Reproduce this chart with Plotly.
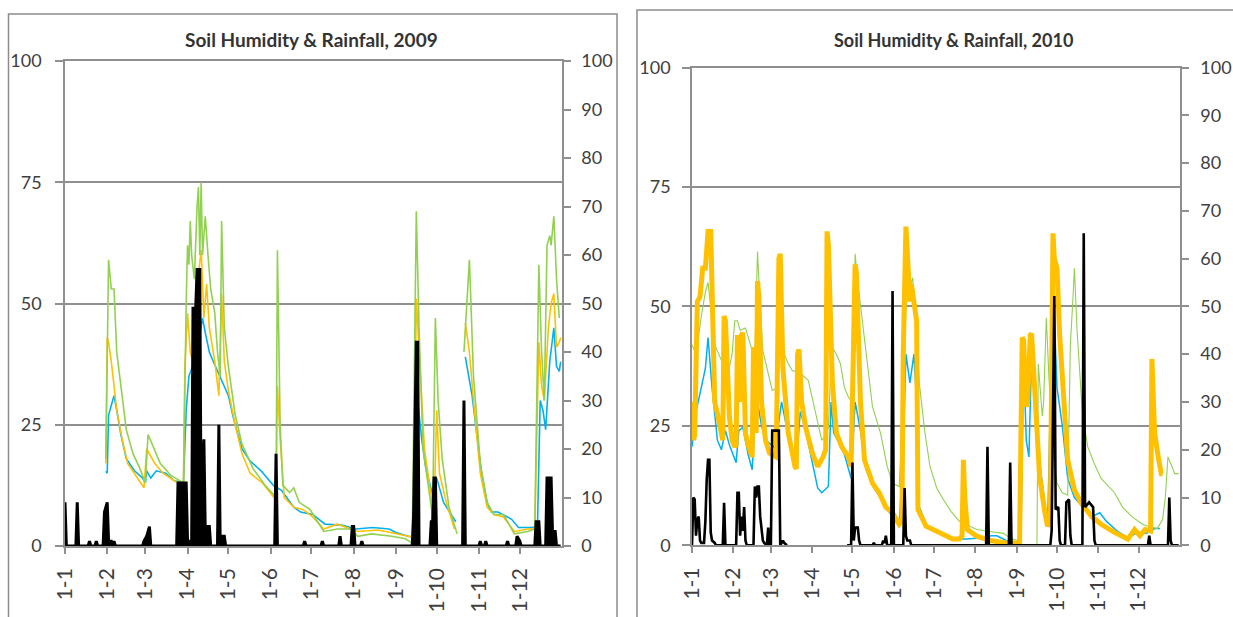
import plotly.graph_objects as go

# ---------------- data (day of year, value) ----------------
month_days = [0, 31, 59, 90, 120, 151, 181, 212, 243, 273, 304, 334]
month_labels = ["1-1", "1-2", "1-3", "1-4", "1-5", "1-6", "1-7", "1-8", "1-9", "1-10", "1-11", "1-12"]
titles = ["Soil Humidity & Rainfall, 2009", "Soil Humidity & Rainfall, 2010"]

blue09 = [(30,15.4),(31,15),(32,27),(36,31),(38,28),(41,23),(45,18),(51,15.5),(57,14),(59,13),(60,15.5),(63,14),
          (67,15.5),(74,15),(80,13.5),(87,13),(89,28),(91,35),(93,36.5),(95,38),(98,42),(101,47),(103,44),(106,40),
          (109,38),(112,36),(115,34),(120,31),(124,26),(130,20),(136,17.5),(144,15.5),(153,12.5),(159,11.5),(168,8),
          (173,7),(182,6.5),(191,4.5),(203,4.3),(214,3.5),(226,3.8),(238,3.5),(243,2.8),(252,2),(257,1.8),(259,30),
          (262,22),(265,16),(270,10.5),(273,14),(278,9),(287,5),(290,None),(294,39),(296,36),(299,31),(302,24),
          (306,15),(310,9),(313,7),(318,7),(328,5.5),(333,3.8),(343,3.8),(347,4),(349,30),(351,28),(353,24),
          (356,38),(359,45),(361,37),(363,36),(364,38)]
orange09 = [(30,17),(31,43),(32,42),(34,38),(38,28),(42,22),(46,17),(52,14.5),(58,12),(60,20),(62,19),(66,17),
            (72,15),(80,13.5),(87,12.5),(88,37),(90,48),(92,40),(94,38),(96,50),(98,56),(100,61),(102,47),(104,54),
            (106,45),(110,38),(113,31),(115,52),(117,38),(120,32),(125,25),(130,19),(136,15),(145,13),(155,9.5),
            (156,33),(158,22),(161,10),(168,8),(175,7.5),(182,6),(190,3.5),(200,4.5),(215,3),(230,3.3),(245,2.5),
            (256,1.8),(258,51),(261,35),(264,20),(268,12),(271,7),(273,28),(275,15),(280,9),(286,3.5),(290,None),
            (294,46),(297,40),(300,30),(305,15),(310,8),(315,6.5),(322,6),(330,3),(340,3.5),(345,3.5),(348,42),
            (350,33),(352,30),(355,45),(357,50),(359,52),(361,41),(363,42),(364,43)]
green09 = [(30,18),(32,59),(34,53),(36,53),(38,40),(41,33),(45,24),(50,19),(55,16),(59,13),(61,23),(64,21),(70,17),
           (78,14.5),(87,13),(89,50),(90,62),(91,58),(92,67),(93,60),(95,55),(97,70),(98,74),(99,60),(100,75),
           (101,60),(103,68),(105,60),(107,53),(110,48),(112,40),(114,35),(115,67),(117,45),(120,37),(125,27),
           (130,21),(138,16),(147,12.5),(155,10),(156,61),(158,25),(160,12.5),(165,11),(168,12),(172,9),(180,7.5),
           (190,3),(200,3.5),(210,3.5),(215,2),(225,2.5),(240,2),(250,1.5),(255,0.6),(258,69),(260,45),(263,20),
           (267,12),(270,6),(272,47),(274,30),(277,18),(282,8),(288,2.5),(290,None),(293,40),(297,59),(300,35),
           (305,17),(310,9),(315,6.5),(322,6.5),(330,2.5),(340,3),(345,3.5),(348,58),(350,40),(352,30),(354,62),
           (356,64),(357,62),(359,68),(361,55),(363,47)]
rain09 = [(0,9),(1,0),(8,0),(9,9),(10,0),(17,0),(18,1),(19,0),(22,0),(23,1),(24,0),(28,0),(29,7),(31,9),(32,1),
          (34,1),(35,0),(36,1),(37,0),(57,0),(58,1),(60,2),(62,4),(63,0),(82,0),(83,13),(89,13),(90,1),(92,1),
          (93,0),(94,49),(96,49),(97,57),(99,57),(100,2),(101,16),(102,22),(103,3),(104,4),(106,4),(107,0),
          (112,0),(113,25),(114,0),(115,2),(117,2),(118,0),(154,0),(155,19),(156,0),(175,0),(176,1),(177,0),
          (188,0),(189,1),(190,0),(201,0),(202,2),(203,0),(210,0),(211,4),(212,4),(213,0),(217,0),(218,1),(219,0),
          (255,0),(256,6),(258,42),(259,42),(260,0),(268,0),(269,5),(270,5),(271,14),(272,14),(273,0),(292,0),
          (293,30),(294,0),(304,0),(305,1),(306,0),(308,0),(309,1),(310,0),(324,0),(325,1),(326,0),(331,0),
          (332,2),(334,1),(335,0),(345,0),(346,5),(348,5),(349,0),(353,0),(354,14),(357,14),(358,3),(360,3),
          (361,0),(364,0)]

blue10 = [(0,20.6),(3,28),(6,31.8),(10,37),(12,43.5),(15,33),(19,22),(22,20),(25,24),(28,21),(33,17.3),(35,24),
          (38,24.7),(42,19),(45,15.8),(47,25),(49,30),(52,25),(55,22),(62,20.4),(65,26),(67,30),(72,23),(78,17),
          (81,28),(85,24),(90,17.3),(94,12),(97,11),(102,12.3),(104,30),(106,23.5),(109,22),(114,19),(119,14),
          (122,30),(126,24),(130,16),(136,12),(141,10),(146,7.5),(150,6),(155,4),(158,20),(160,40),(163,34),
          (166,40),(168,30),(170,8),(176,4),(186,2.5),(195,1.3),(205,1.3),(215,1.5),(224,2),(228,2),(235,1),
          (246,0.5),(248,40),(250,22),(252,18.5),(254,40),(258,22),(262,13),(266,4),(270,55),(273,33),(277,25),
          (281,14),(286,10),(291,8.5),(299,6),(305,6.8),(310,5),(318,3),(326,1.5),(332,2.5),(340,2.5),(346,3.5),
          (350,3.5)]
orange10 = [(0,30),(1,22),(2,23),(4,51),(6,52),(8,58),(10,58),(11,62),(12,65.7),(14,65.7),(16,40),(17,30),
            (19,27.6),(21,24),(23,22),(24,48),(25,47),(28,26.8),(30,22),(32,20.6),(33,21),(34,44),(35,40),(36,30),
            (37,44),(38,44.5),(40,23.5),(42,21),(45,18.5),(46,41.5),(47,35),(48,23.5),(49,55.3),(50,52),(52,30),
            (55,22),(58,19.3),(63,18.5),(65,60),(66,61),(68,37),(72,23.5),(77,16.5),(78,16),(79,40),(80,41),
            (82,30),(85,24.7),(90,19.3),(94,16.5),(98,18.5),(100,20),(101,65.7),(102,63),(105,34),(108,23.5),
            (112,20.6),(117,18.5),(119,16.5),(120,30),(122,58.8),(123,57),(126,30),(129,17.9),(135,13),(140,11),
            (145,8),(150,6.8),(155,4.4),(157,5),(158,40),(160,66.7),(161,60),(163,51),(164,54.7),(166,50),
            (167,48.4),(168,47),(169,7.5),(175,4),(185,2.7),(195,1.3),(200,1.3),(202,2),(203,17.9),(204,10),
            (206,3.3),(213,1.9),(223,1),(235,0.5),(245,0.5),(247,43.5),(248,43),(250,29),(251,30),(253,44),
            (254,44.3),(258,23.5),(260,14.3),(264,6.8),(266,4),(268,5),(270,65.3),(271,60),(273,58),(275,44),
            (278,30),(281,17.9),(286,11.6),(291,8.9),(299,6),(306,4.4),(316,2.7),(326,1.3),(331,3.3),(335,2),
            (339,3.3),(343,3),(344,39),(346,23.5),(349,18),(351,15),(352,15)]
green10 = [(0,42),(3,40),(7,48),(10,53),(12,55),(14,50),(17,42),(22,38.7),(27,36),(30,40),(32,47),(34,47),(36,45),
           (40,45.5),(45,40.7),(47,40),(49,61.5),(51,50),(53,40.7),(57,36),(60,32.4),(64,33),(66,42),(68,40.7),
           (72,38),(75,36.6),(81,36),(87,34.5),(92,28),(97,22),(100,23),(102,24.7),(104,38),(106,41),(108,40),
           (111,38),(114,33),(117,31),(120,30),(122,61),(124,55),(127,47.6),(131,38.7),(135,29),(141,23.5),
           (146,16.5),(150,13),(155,12.3),(158,30),(160,50),(165,56),(167,50),(170,34),(174,24),(178,16.5),
           (183,12),(188,9.6),(194,7),(200,5),(207,4),(213,3.3),(220,3),(227,2.8),(233,2.5),(238,1.5),(243,1),
           (246,0),(258,0),(259,38),(261,30),(262,27),(263,30),(265,47.6),(267,35),(270,20),(273,13),(277,11),
           (281,10.5),(283,42),(285,52),(286,58),(288,45),(292,27.6),(296,20.6),(301,17),(306,14),(311,12.5),
           (316,11),(322,8),(329,6),(337,4.4),(341,4),(348,3.5),(352,5.4),(354,10),(356,18.5),(359,16.5),
           (361,15),(364,15)]
rain10 = [(0,0),(1,10),(2,9.6),(3,2),(4,5.4),(5,6),(6,1),(7,0.5),(9,0.5),(10,5),(11,13.7),(12,17.9),(13,17.9),
          (14,2.7),(15,1),(17,0.5),(18,0),(23,0),(24,8.9),(25,0),(33,0),(34,11),(35,11),(36,2),(37,6),(38,3),
          (39,8),(40,1),(41,0),(46,0),(47,12.3),(48,10),(49,12.3),(50,12.3),(51,6),(52,4),(53,1),(54,0.5),(56,0),
          (57,3.7),(58,0),(59,0),(60,24),(65,24),(66,0),(67,0.5),(68,1),(69,0.5),(71,0),(90,None),(116,0),
          (119,0),(120,17.3),(121,1),(122,3.7),(124,3.7),(125,1),(126,0),(135,0),(136,0.5),(137,0),(142,0),
          (143,1),(144,0.5),(145,2),(146,0),(149,0),(150,53.2),(151,0),(158,0),(159,12),(160,2),(161,1),(163,1),
          (164,0),(220,0),(221,20.6),(222,0),(237,0),(238,17.3),(239,0),(268,0),(269,3),(271,52.2),(272,7.5),
          (274,8),(275,1),(276,0),(279,0),(280,9),(282,9.6),(283,2),(284,0),(292,0),(293,65.3),(294,8),(297,9),
          (300,8),(301,1),(302,0),(341,0),(342,2),(343,0),(356,0),(357,10),(358,1),(359,0),(364,0)]


def xy(pairs):
    return [p[0] for p in pairs], [p[1] for p in pairs]


BLUE, ORANGE, GREEN = "#00B0F0", "#FFC000", "#92D050"
GRID = "#8f8f8f"
TXT = "#404040"
FONT = "Lato"

fig = go.Figure()

# ---- 2009 panel ----
for pairs, col, w in [(blue09, BLUE, 1.6), (orange09, ORANGE, 1.6), (green09, GREEN, 1.6)]:
    x, y = xy(pairs)
    fig.add_trace(go.Scatter(x=x, y=y, mode="lines", line=dict(color=col, width=w),
                             xaxis="x", yaxis="y", connectgaps=False, hoverinfo="skip"))
x, y = xy(rain09)
fig.add_trace(go.Scatter(x=x, y=y, mode="lines", line=dict(color="black", width=3),
                         fill="tozeroy", fillcolor="black", xaxis="x", yaxis="y2", hoverinfo="skip"))

# ---- 2010 panel ----
for pairs, col, w in [(blue10, BLUE, 1.5), (green10, GREEN, 1.1), (orange10, ORANGE, 5)]:
    x, y = xy(pairs)
    fig.add_trace(go.Scatter(x=x, y=y, mode="lines", line=dict(color=col, width=w),
                             xaxis="x2", yaxis="y3", connectgaps=False, hoverinfo="skip"))
x, y = xy(rain10)
fig.add_trace(go.Scatter(x=x, y=y, mode="lines", line=dict(color="black", width=2.6),
                         xaxis="x2", yaxis="y4", connectgaps=False, hoverinfo="skip"))

W, H = 1233, 617
L1 = [65 / W, 562 / W]
V1 = [(H - 546) / H, (H - 61) / H]
L2 = [692 / W, 1180 / W]
V2 = [(H - 545.3) / H, (H - 67.5) / H]


def xaxis(domain, anchor):
    return dict(domain=domain, anchor=anchor, range=[0, 365], tickmode="array",
                tickvals=month_days, ticktext=month_labels, tickangle=-90,
                ticks="outside", ticklen=6, tickcolor=GRID, tickwidth=1.5,
                showline=True, linecolor=GRID, linewidth=1.5, mirror=True,
                showgrid=False, zeroline=False, ticklabelstandoff=6, automargin=False,
                tickfont=dict(family=FONT, size=21, color=TXT))


def yleft(domain, anchor, standoff):
    return dict(domain=domain, anchor=anchor, range=[0, 100], tickvals=[0, 25, 50, 75, 100],
                ticks="outside", ticklen=8, tickcolor=GRID, tickwidth=1.5,
                showline=True, linecolor=GRID, linewidth=1.5,
                showgrid=True, gridcolor=GRID, gridwidth=1.5, zeroline=False,
                ticklabelstandoff=standoff, automargin=False,
                tickfont=dict(family=FONT, size=18, color=TXT))


def yright(overlay, anchor, standoff):
    return dict(overlaying=overlay, side="right", anchor=anchor, range=[0, 100],
                tickvals=list(range(0, 101, 10)),
                ticks="outside", ticklen=7, tickcolor=GRID, tickwidth=1.5,
                showline=True, linecolor=GRID, linewidth=1.5,
                showgrid=False, zeroline=False, ticklabelstandoff=standoff, automargin=False,
                tickfont=dict(family=FONT, size=18, color=TXT))


fig.update_layout(
    width=W, height=H,
    margin=dict(l=0, r=0, t=0, b=0, autoexpand=False),
    paper_bgcolor="white", plot_bgcolor="white",
    showlegend=False,
    xaxis=xaxis(L1, "y"),
    yaxis=yleft(V1, "x", 10),
    yaxis2=yright("y", "x", 7),
    xaxis2=xaxis(L2, "y3"),
    yaxis3=yleft(V2, "x2", 8),
    yaxis4=yright("y3", "x2", 8),
    annotations=[
        dict(text="<b>" + titles[0] + "</b>", x=311 / W, y=(H - 40) / H, xref="paper", yref="paper",
             showarrow=False, xanchor="center", yanchor="middle",
             font=dict(family=FONT, size=19, color="#333333")),
        dict(text="<b>" + titles[1] + "</b>", x=953 / W, y=(H - 40) / H, xref="paper", yref="paper",
             showarrow=False, xanchor="center", yanchor="middle",
             font=dict(family=FONT, size=18, color="#333333")),
    ],
    shapes=[
        dict(type="rect", xref="paper", yref="paper", x0=8.5 / W, x1=617 / W, y0=-0.05, y1=(H - 14) / H,
             line=dict(color="#8c8c8c", width=1.5), layer="below"),
        dict(type="rect", xref="paper", yref="paper", x0=637 / W, x1=1.05, y0=-0.05, y1=(H - 10) / H,
             line=dict(color="#8c8c8c", width=1.5), layer="below"),
    ],
)

fig.write_html("out.html")
